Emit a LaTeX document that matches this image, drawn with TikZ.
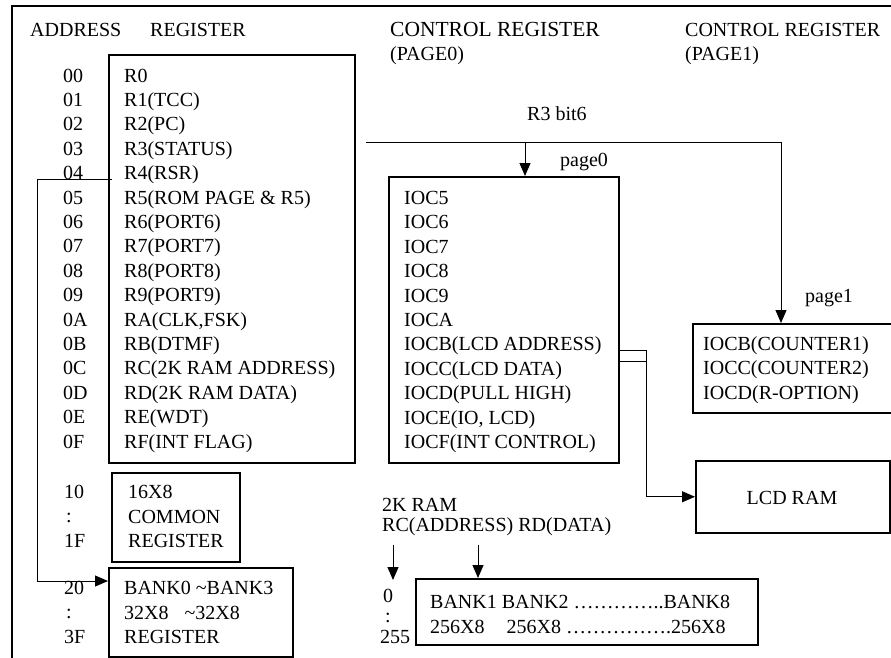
\documentclass[tikz,border=0pt]{standalone}
\usepackage{fontspec}
\setmainfont{Liberation Serif}
\usetikzlibrary{arrows.meta}
\tikzset{
  box/.style={draw, line width=1.5pt, inner sep=0pt, anchor=north west},
  conn/.style={line width=1pt},
  arr/.style={conn, -{Triangle[length=13pt,width=11pt]}},
  txt/.style={anchor=base west, inner sep=0pt},
}
\begin{document}
\begin{tikzpicture}[x=1pt, y=-1pt, font=\fontsize{20}{24.4}\selectfont]
\useasboundingbox (0,0) rectangle (891,657);
\clip (0,0) rectangle (891,657);
% outer frame
\draw[line width=2pt] (12,670) -- (12,6) -- (900,6);
% headers
\node[txt] (hAddr) at (30,36) {ADDRESS};
\node[txt] (hReg) at (150,36) {REGISTER};
\node[txt, font=\fontsize{21.5}{24.4}\selectfont] (hC0) at (390,36) {CONTROL REGISTER};
\node[txt] (hP0) at (390,60) {(PAGE0)};
\node[txt] (hC1) at (685,36) {CONTROL REGISTER};
\node[txt] (hP1) at (685,60) {(PAGE1)};
% boxes
\node[box, minimum width=246pt, minimum height=408pt] (reg) at (108,54) {};
\node[box, minimum width=128pt, minimum height=89pt] (common) at (111,472) {};
\node[box, minimum width=184pt, minimum height=89pt] (bank) at (108,567) {};
\node[box, minimum width=230pt, minimum height=286pt] (page0) at (388,176) {};
\node[box, minimum width=220pt, minimum height=89pt] (page1) at (692,323) {};
\node[box, minimum width=194pt, minimum height=72pt] (lcd) at (695,460) {};
\node[box, minimum width=342pt, minimum height=66pt] (ram) at (415,578) {};
% address column and registers
\foreach [count=\i from 0] \t in {00,01,02,03,04,05,06,07,08,09,0A,0B,0C,0D,0E,0F}
  \node[txt, name=ad\i] at (63,{82+24.4*\i}) {\t};
\foreach [count=\i from 0] \t in {R0,R1(TCC),R2(PC),R3(STATUS),R4(RSR),R5(ROM PAGE \& R5),R6(PORT6),R7(PORT7),R8(PORT8),R9(PORT9),{RA(CLK,FSK)},RB(DTMF),RC(2K RAM ADDRESS),RD(2K RAM DATA),RE(WDT),RF(INT FLAG)}
  \node[txt, name=rg\i] at (124,{82+24.4*\i}) {\t};
% common register
\node[txt] (a10) at (64,498.5) {10};
\node[txt] (a10c) at (66,522.5) {:};
\node[txt] (a1F) at (64,547) {1F};
\node[txt] (c1) at (128,498.5) {16X8};
\node[txt] (c2) at (128,523) {COMMON};
\node[txt] (c3) at (128,547.5) {REGISTER};
% bank register
\node[txt] (a20) at (64,594) {20};
\node[txt] (a20c) at (66,618) {:};
\node[txt] (a3F) at (64,643) {3F};
\node[txt] (b1) at (124,594.5) {BANK0 \textasciitilde BANK3};
\node[txt] (b2) at (124,619) {32X8\hspace{16pt}\textasciitilde 32X8};
\node[txt] (b3) at (124,643.5) {REGISTER};
% page0
\foreach [count=\i from 0] \t in {IOC5,IOC6,IOC7,IOC8,IOC9,IOCA,IOCB(LCD ADDRESS),IOCC(LCD DATA),IOCD(PULL HIGH),{IOCE(IO, LCD)},IOCF(INT CONTROL)}
  \node[txt, name=p0\i] at (404,{204.5+24.4*\i}) {\t};
% page1
\foreach [count=\i from 0] \t in {IOCB(COUNTER1),IOCC(COUNTER2),IOCD(R-OPTION)}
  \node[txt, name=p1\i] at (703,{350.5+24.4*\i}) {\t};
% labels
\node[txt] (r3lbl) at (527,120) {R3 bit6};
\node[txt] (pg0) at (560,166) {page0};
\node[txt] (pg1) at (805,302) {page1};
\node[anchor=base, inner sep=0pt] (lcdtxt) at (792,504) {LCD RAM};
% 2K RAM
\node[txt] (k1) at (382,511.5) {2K RAM};
\node[txt] (k2) at (382,531.5) {RC(ADDRESS) RD(DATA)};
\node[txt] (z0) at (383,602) {0};
\node[txt] (zc) at (385,622) {:};
\node[txt] (z255) at (380,643) {255};
\node[txt] (m1) at (430,608.5) {BANK1 BANK2 …………..BANK8};
\node[txt] (m2) at (430,633) {256X8\hspace{22pt}256X8 …………….256X8};
% connectors
\coordinate (r3s) at (366,142);
\coordinate (r3a) at (525,142);
\coordinate (r3b) at (781,142);
\draw[conn] (r3s) -- (r3b);
\draw[arr] (r3a) -- (r3a |- page0.north);
\draw[arr] (r3b) -- (r3b |- page1.north);
\coordinate (j1) at (646,350);
\coordinate (j2) at (646,361);
\draw[conn] (j1 -| page0.east) -- (j1);
\draw[conn] (j2 -| page0.east) -- (j2);
\draw[arr] (j1) -- (j1 |- lcd.west) -- (lcd.west);
\coordinate (r4s) at (112,179);
\coordinate (r4a) at (37,179);
\coordinate (r4b) at (37,581);
\draw[arr] (r4s) -- (r4a) -- (r4b) -- (r4b -| bank.west);
\coordinate (ka) at (393,545);
\coordinate (kat) at (393,580);
\coordinate (kb) at (478,545);
\draw[arr] (ka) -- (kat);
\draw[arr] (kb) -- (kb |- ram.north);
\end{tikzpicture}
\end{document}
